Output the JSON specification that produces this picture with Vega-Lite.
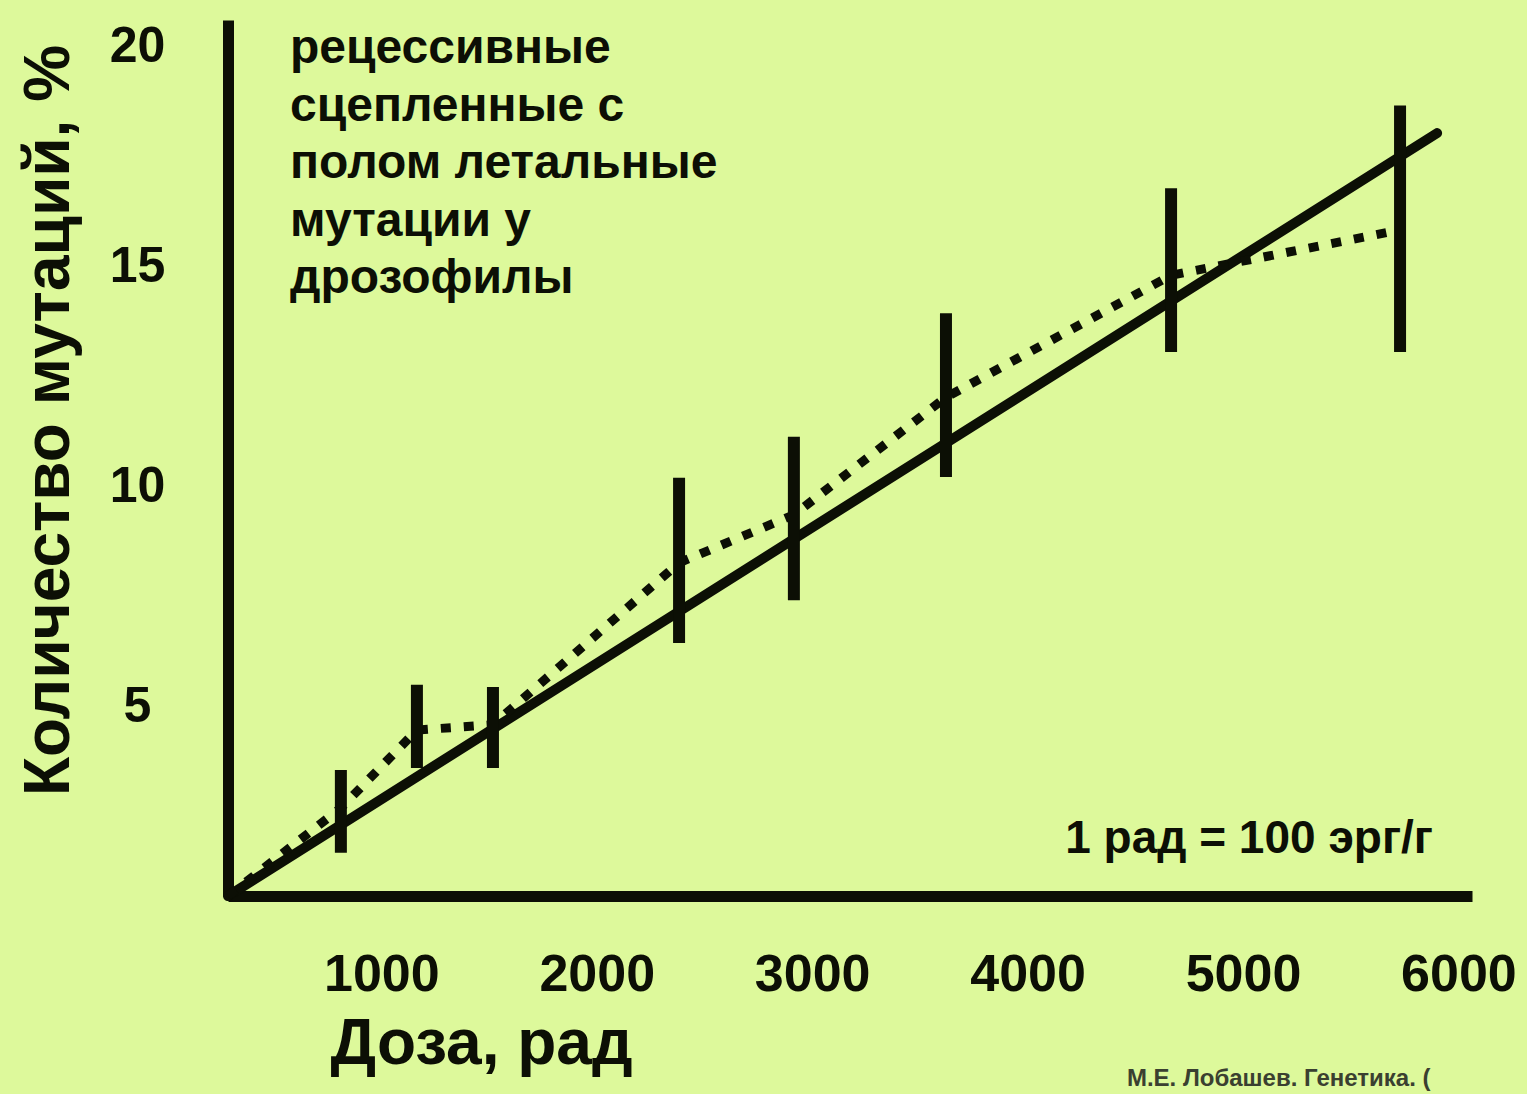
{
  "$schema": "https://vega.github.io/schema/vega-lite/v6.json",
  "width": 1244,
  "height": 876,
  "autosize": "none",
  "padding": {"left": 228, "top": 20, "right": 55, "bottom": 198},
  "background": "#ddf99b",
  "config": {
    "view": {"stroke": null},
    "font": "Liberation Sans, Arial, sans-serif"
  },
  "datasets": {
    "bars": [
      {"dose": 812, "lo": 1.68, "hi": 3.56},
      {"dose": 1165, "lo": 3.61, "hi": 5.5},
      {"dose": 1518, "lo": 3.61, "hi": 5.45},
      {"dose": 2382, "lo": 6.45, "hi": 10.2},
      {"dose": 2915, "lo": 7.42, "hi": 11.13},
      {"dose": 3621, "lo": 10.22, "hi": 13.94},
      {"dose": 4666, "lo": 13.06, "hi": 16.78},
      {"dose": 5729, "lo": 13.06, "hi": 18.66}
    ],
    "observed": [
      {"dose": 288, "pct": 0.7},
      {"dose": 812, "pct": 2.7},
      {"dose": 1165, "pct": 4.47},
      {"dose": 1518, "pct": 4.59},
      {"dose": 2382, "pct": 8.27},
      {"dose": 2915, "pct": 9.36},
      {"dose": 3621, "pct": 12.03},
      {"dose": 4666, "pct": 14.8},
      {"dose": 5729, "pct": 15.83}
    ],
    "fit": [
      {"dose": 288, "pct": 0.7},
      {"dose": 5901, "pct": 18.03}
    ],
    "annotation": [
      {"dose": 576, "pct": 19.62, "label": ["рецессивные", "сцепленные  с", "полом летальные", "мутации у", "дрозофилы"]}
    ],
    "unit": [
      {"dose": 5882, "pct": 1.68, "label": "1 рад = 100 эрг/г"}
    ],
    "source": [
      {"dose": 4461, "pct": -3.62, "label": "М.Е. Лобашев.  Генетика.  ("}
    ]
  },
  "layer": [
    {
      "data": {"name": "fit"},
      "mark": {"type": "line", "color": "#0c0f05", "strokeWidth": 10, "strokeCap": "round", "clip": false},
      "encoding": {
        "x": {
          "field": "dose", "type": "quantitative",
          "scale": {"domain": [288, 6063], "nice": false, "zero": false},
          "axis": {
            "values": [1000, 2000, 3000, 4000, 5000, 6000],
            "format": "d",
            "grid": false, "ticks": false, "tickSize": 0,
            "domainColor": "#0c0f05", "domainWidth": 11, "domainCap": "butt",
            "labelFontSize": 52, "labelFontWeight": "bold", "labelColor": "#0c0f05",
            "labelPadding": 53, "labelFlush": false, "labelOverlap": false,
            "title": "Доза, рад", "titleFontSize": 64, "titleFontWeight": "bold", "titleColor": "#0c0f05",
            "titleAlign": "left", "titleAnchor": null, "titleBaseline": "alphabetic",
            "titleX": 102, "titleY": 167
          }
        },
        "y": {
          "field": "pct", "type": "quantitative",
          "scale": {"domain": [0.7, 20.6], "nice": false, "zero": false},
          "axis": {
            "values": [5, 10, 15, 20],
            "grid": false, "ticks": false, "tickSize": 0,
            "domainColor": "#0c0f05", "domainWidth": 11, "domainCap": "butt",
            "labelFontSize": 50, "labelFontWeight": "bold", "labelColor": "#0c0f05",
            "labelAlign": "center", "labelBaseline": "middle",
            "labelPadding": 91, "labelFlush": false, "labelOverlap": false,
            "title": "Количество мутаций, %", "titleFontSize": 64, "titleFontWeight": "bold", "titleColor": "#0c0f05",
            "titleAngle": -90, "titleAlign": "center", "titleAnchor": null, "titleBaseline": "alphabetic",
            "titleX": -160, "titleY": 400
          }
        }
      }
    },
    {
      "data": {"name": "observed"},
      "mark": {"type": "line", "color": "#0c0f05", "strokeWidth": 9, "strokeDash": [10, 13], "strokeCap": "butt", "clip": false},
      "encoding": {
        "x": {"field": "dose", "type": "quantitative"},
        "y": {"field": "pct", "type": "quantitative"}
      }
    },
    {
      "data": {"name": "bars"},
      "mark": {"type": "rule", "color": "#0c0f05", "strokeWidth": 12, "strokeCap": "butt"},
      "encoding": {
        "x": {"field": "dose", "type": "quantitative"},
        "y": {"field": "lo", "type": "quantitative"},
        "y2": {"field": "hi"}
      }
    },
    {
      "data": {"name": "annotation"},
      "mark": {"type": "text", "align": "left", "baseline": "alphabetic", "fontSize": 48, "fontWeight": "bold", "lineHeight": 57.5, "color": "#0c0f05"},
      "encoding": {
        "x": {"field": "dose", "type": "quantitative"},
        "y": {"field": "pct", "type": "quantitative"},
        "text": {"field": "label"}
      }
    },
    {
      "data": {"name": "unit"},
      "mark": {"type": "text", "align": "right", "baseline": "alphabetic", "fontSize": 46, "fontWeight": "bold", "color": "#0c0f05"},
      "encoding": {
        "x": {"field": "dose", "type": "quantitative"},
        "y": {"field": "pct", "type": "quantitative"},
        "text": {"field": "label"}
      }
    },
    {
      "data": {"name": "source"},
      "mark": {"type": "text", "align": "left", "baseline": "alphabetic", "fontSize": 24, "fontWeight": "bold", "color": "#3a4030", "clip": false},
      "encoding": {
        "x": {"field": "dose", "type": "quantitative"},
        "y": {"field": "pct", "type": "quantitative"},
        "text": {"field": "label"}
      }
    }
  ]
}
